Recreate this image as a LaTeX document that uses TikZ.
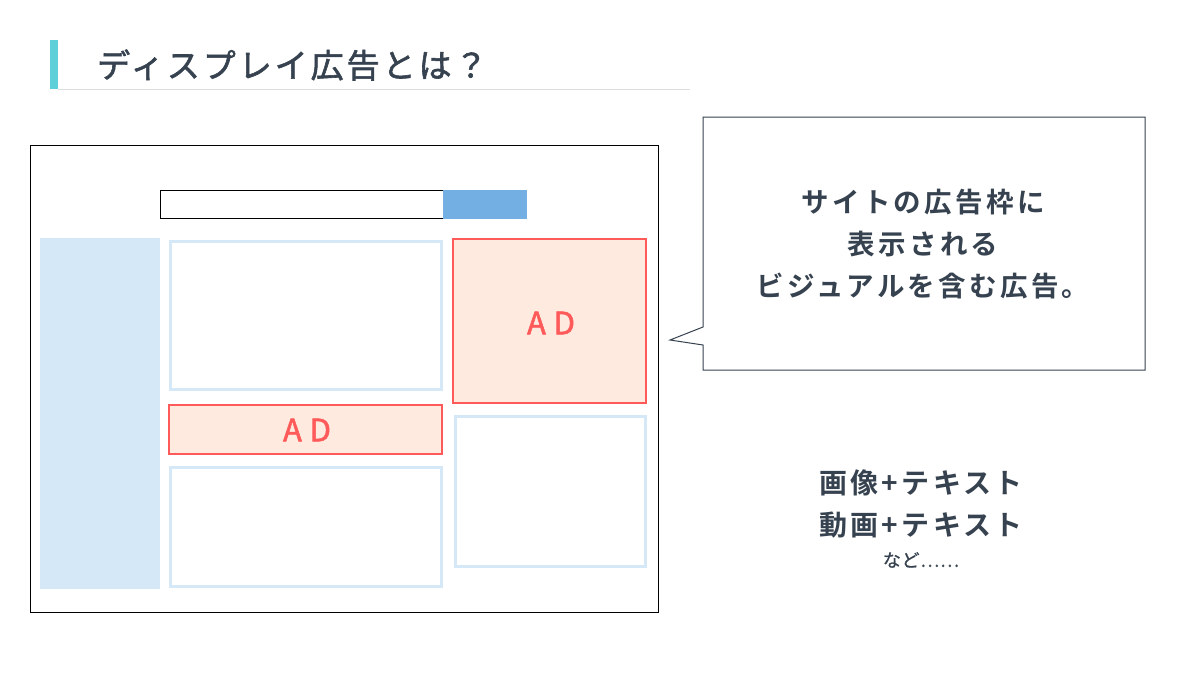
\documentclass[tikz,border=0pt]{standalone}
\usepackage{fontspec}
\setmainfont{Noto Sans CJK JP}
\newfontfamily\jpreg[LetterSpace=9,FakeBold=1.8]{Noto Sans CJK JP}
\newfontfamily\jpsmall[LetterSpace=4,FakeBold=1]{Noto Sans CJK JP}
\newfontfamily\jpbold[LetterSpace=12]{Noto Sans CJK JP Bold}
\newfontfamily\adfont[LetterSpace=25,FakeBold=1.8]{Noto Sans CJK JP}
\definecolor{ink}{HTML}{36424F}
\definecolor{teal}{HTML}{5DCFD8}
\definecolor{btnblue}{HTML}{74AFE4}
\definecolor{paleblue}{HTML}{D5E8F8}
\definecolor{adfill}{HTML}{FFEADF}
\definecolor{adred}{HTML}{FF5A5A}
\definecolor{rulegray}{HTML}{DDDDDD}
\tikzset{
  content/.style={draw=paleblue, line width=3pt},
  adbox/.style={draw=adred, fill=adfill, line width=2pt},
  adtext/.style={text=adred, font=\adfont\fontsize{31}{31}\selectfont, inner sep=0pt},
  bodytext/.style={text=ink, font=\jpbold\fontsize{27.5}{42}\selectfont, align=center, inner sep=0pt},
}
\begin{document}
\begin{tikzpicture}[x=1pt,y=-1pt]
\useasboundingbox[fill=white] (0,0) rectangle (1200,675);
% title
\fill[teal] (50,40) rectangle (58,89);
\draw[rulegray, line width=1pt] (58,89.5) -- (690,89.5);
\node[anchor=west, text=ink, font=\jpreg\fontsize{33}{33}\selectfont, inner sep=0pt] (title) at (97,65) {ディスプレイ広告とは？};
% browser frame
\draw[black, line width=1pt] (30,145) rectangle (658,612);
\draw[black, line width=1pt] (160,190.5) rectangle (443,218);
\fill[btnblue] (443,190) rectangle (527,218.5);
\fill[paleblue] (40,238) rectangle (160,589);
\draw[content] (170,241) rectangle (441,389);
\draw[content] (170,467) rectangle (441,586);
\draw[content] (455,416) rectangle (645,566);
\draw[adbox] (453,239) rectangle (646,403);
\node[adtext] (ad1) at (551,323) {AD};
\draw[adbox] (169,405) rectangle (442,454);
\node[adtext] (ad2) at (307,430) {AD};
% callout
\draw[ink, line width=1pt, fill=white] (703,117) -- (1145,117) -- (1145,370) -- (703,370) -- (703,345) -- (670,340) -- (703,327) -- cycle;
\node[bodytext] (call) at (923,244) {サイトの広告枠に\\表示される\\ビジュアルを含む広告。};
% bottom text
\node[bodytext, font=\jpbold\fontsize{28}{42}\selectfont] (media) at (921,504) {画像+テキスト\\動画+テキスト};
\node[text=ink, font=\jpsmall\fontsize{18}{18}\selectfont, inner sep=0pt] (etc) at (921,560) {など……};
\end{tikzpicture}
\end{document}
